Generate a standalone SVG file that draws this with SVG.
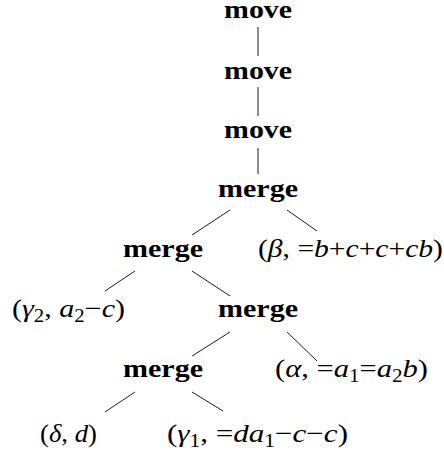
<svg xmlns="http://www.w3.org/2000/svg" width="444" height="452" viewBox="0 0 444 452">
<style>
.op{font-family:"Liberation Serif",serif;font-weight:bold;font-size:26px;fill:#000;text-anchor:middle}
.m{font-family:"Liberation Serif",serif;font-size:26px;fill:#000;text-anchor:middle}
.i{font-style:italic}
.s{font-size:18px}
.e{stroke:#000;stroke-width:0.9;fill:none}
</style>
<rect width="444" height="452" fill="#fff"/>
<g id="edges" class="e">
<line x1="258" y1="27" x2="258" y2="56"/>
<line x1="258" y1="87" x2="258" y2="116"/>
<line x1="258" y1="148" x2="258" y2="174"/>
<line x1="230" y1="210" x2="192" y2="235"/>
<line x1="287" y1="210" x2="317" y2="231"/>
<line x1="135" y1="271" x2="105" y2="291"/>
<line x1="192" y1="271" x2="230" y2="296"/>
<line x1="230" y1="332" x2="192" y2="356"/>
<line x1="287" y1="332" x2="317" y2="361"/>
<line x1="135" y1="392" x2="105" y2="412"/>
<line x1="192" y1="392" x2="223" y2="411"/>
</g>
<g id="move1"><text class="op" x="258" y="18" textLength="68" lengthAdjust="spacingAndGlyphs">move</text></g>
<g id="move2"><text class="op" x="258" y="79" textLength="68" lengthAdjust="spacingAndGlyphs">move</text></g>
<g id="move3"><text class="op" x="258" y="138" textLength="68" lengthAdjust="spacingAndGlyphs">move</text></g>
<g id="merge1"><text class="op" x="258" y="197" textLength="80" lengthAdjust="spacingAndGlyphs">merge</text></g>
<g id="merge2"><text class="op" x="163" y="257" textLength="80" lengthAdjust="spacingAndGlyphs">merge</text></g>
<g id="beta"><text class="m" x="350.5" y="257" textLength="185" lengthAdjust="spacingAndGlyphs">(<tspan class="i">β</tspan>, =<tspan class="i">b</tspan>+<tspan class="i">c</tspan>+<tspan class="i">c</tspan>+<tspan class="i">cb</tspan>)</text></g>
<g id="gamma2"><text class="m" x="68.5" y="317" textLength="113" lengthAdjust="spacingAndGlyphs">(<tspan class="i">γ</tspan><tspan class="s" dy="5">2</tspan><tspan dy="-5">, </tspan><tspan class="i">a</tspan><tspan class="s" dy="5">2</tspan><tspan dy="-5">−</tspan><tspan class="i">c</tspan>)</text></g>
<g id="merge3"><text class="op" x="258" y="317" textLength="80" lengthAdjust="spacingAndGlyphs">merge</text></g>
<g id="merge4"><text class="op" x="163" y="377" textLength="80" lengthAdjust="spacingAndGlyphs">merge</text></g>
<g id="alpha"><text class="m" x="351.5" y="377" textLength="153" lengthAdjust="spacingAndGlyphs">(<tspan class="i">α</tspan>, =<tspan class="i">a</tspan><tspan class="s" dy="5">1</tspan><tspan dy="-5">=</tspan><tspan class="i">a</tspan><tspan class="s" dy="5">2</tspan><tspan class="i" dy="-5">b</tspan>)</text></g>
<g id="delta"><text class="m" x="68.5" y="442" textLength="57" lengthAdjust="spacingAndGlyphs">(<tspan class="i">δ</tspan>, <tspan class="i">d</tspan>)</text></g>
<g id="gamma1"><text class="m" x="257.5" y="442" textLength="181" lengthAdjust="spacingAndGlyphs">(<tspan class="i">γ</tspan><tspan class="s" dy="5">1</tspan><tspan dy="-5">, =</tspan><tspan class="i">da</tspan><tspan class="s" dy="5">1</tspan><tspan dy="-5">−</tspan><tspan class="i">c</tspan>−<tspan class="i">c</tspan>)</text></g>
</svg>
